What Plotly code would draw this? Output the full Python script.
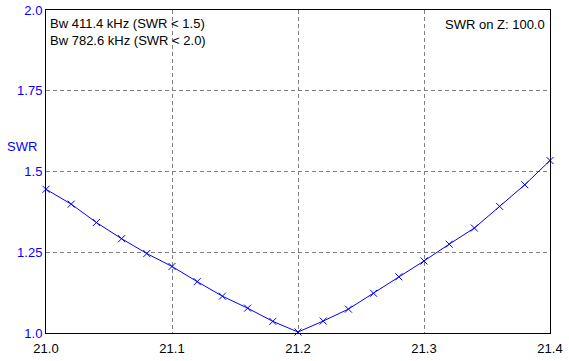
import plotly.graph_objects as go

freq_mhz = [21.00, 21.02, 21.04, 21.06, 21.08, 21.10, 21.12, 21.14, 21.16, 21.18, 21.20,
            21.22, 21.24, 21.26, 21.28, 21.30, 21.32, 21.34, 21.36, 21.38, 21.40]
swr = [1.445, 1.399, 1.342, 1.292, 1.246, 1.206, 1.159, 1.114, 1.077, 1.036, 1.003,
       1.037, 1.074, 1.123, 1.174, 1.223, 1.275, 1.325, 1.392, 1.459, 1.534]

x_ticks = [21.0, 21.1, 21.2, 21.3, 21.4]
x_tick_labels = ["21.0", "21.1", "21.2", "21.3", "21.4"]
y_ticks = [1.0, 1.25, 1.5, 1.75, 2.0]
y_tick_labels = ["1.0", "1.25", "1.5", "1.75", "2.0"]

bw_lines = ["Bw 411.4 kHz (SWR < 1.5)", "Bw 782.6 kHz (SWR < 2.0)"]
z_label = "SWR on Z: 100.0"
y_title = "SWR"

FONT = "Liberation Sans, Arial, sans-serif"
BLUE = "#0000FF"
FS = 13

fig = go.Figure()
fig.add_trace(go.Scatter(
    x=freq_mhz, y=swr, mode="lines+markers",
    line=dict(color=BLUE, width=1),
    marker=dict(symbol="x-thin", size=7, line=dict(color=BLUE, width=1), color=BLUE),
    cliponaxis=False, showlegend=False, hoverinfo="skip",
))

fig.update_layout(
    width=569, height=361,
    margin=dict(l=46, r=19, t=10, b=28, pad=0),
    paper_bgcolor="white", plot_bgcolor="white",
    font=dict(family=FONT, size=FS, color="black"),
    showlegend=False,
    xaxis=dict(
        range=[21.0, 21.4], tickvals=x_ticks, ticktext=x_tick_labels,
        showgrid=True, gridcolor="#808080", gridwidth=1, griddash="4px,3px",
        showline=True, linecolor="black", linewidth=1, mirror=True,
        ticks="", zeroline=False, tickfont=dict(color="black", size=FS),
        ticklabelstandoff=3, automargin=False,
    ),
    yaxis=dict(
        range=[1.0, 2.0], tickvals=y_ticks, ticktext=y_tick_labels,
        showgrid=True, gridcolor="#808080", gridwidth=1, griddash="4px,3px",
        showline=True, linecolor="black", linewidth=1, mirror=True,
        ticks="", zeroline=False, tickfont=dict(color=BLUE, size=FS),
        automargin=False,
    ),
)

fig.add_annotation(xref="paper", yref="paper", x=0, y=1, xshift=2, yshift=-4,
                   xanchor="left", yanchor="top", showarrow=False, align="left",
                   text="<br>".join(bw_lines), font=dict(color="black", size=FS))
fig.add_annotation(xref="paper", yref="paper", x=1, y=1, xshift=-3, yshift=-5,
                   xanchor="right", yanchor="top", showarrow=False,
                   text=z_label, font=dict(color="black", size=FS))
fig.add_annotation(xref="paper", yref="paper", x=0, y=0.577, xshift=-24,
                   xanchor="center", yanchor="middle", showarrow=False,
                   text=y_title, font=dict(color=BLUE, size=FS))

fig.write_html(
    "out.html",
    config={"displayModeBar": False},
    post_script="document.body.style.margin='0';document.body.style.padding='0';document.body.style.overflow='hidden';",
)
